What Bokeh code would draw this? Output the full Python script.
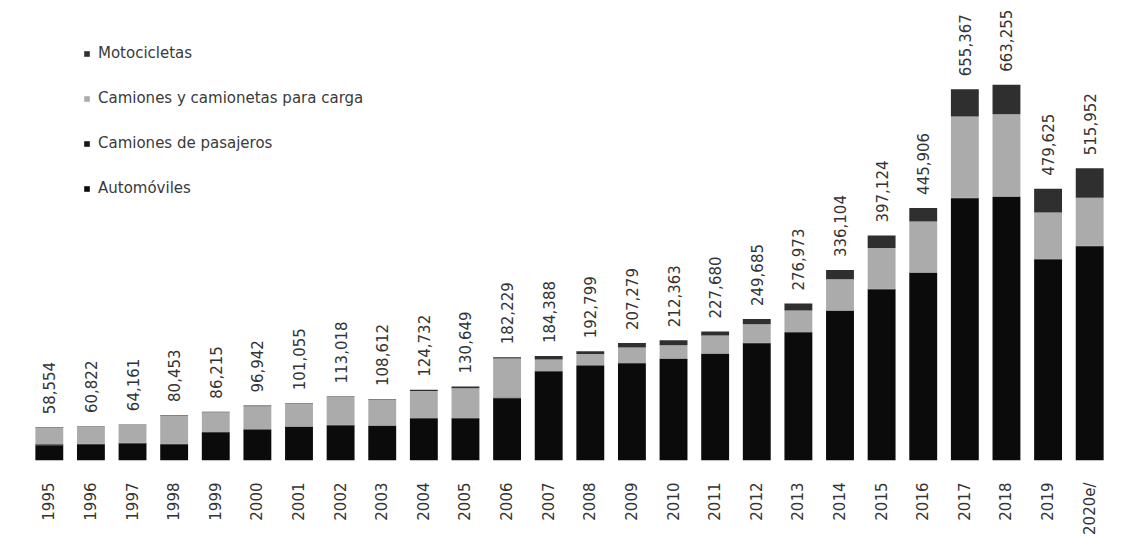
import math
from bokeh.plotting import figure
from bokeh.models import ColumnDataSource, FactorRange, Range1d, Legend, LegendItem
from bokeh.core.properties import value
from bokeh.embed import file_html
from bokeh.resources import INLINE

years = ["1995", "1996", "1997", "1998", "1999", "2000", "2001", "2002", "2003",
         "2004", "2005", "2006", "2007", "2008", "2009", "2010", "2011", "2012",
         "2013", "2014", "2015", "2016", "2017", "2018", "2019", "2020e/"]

automoviles = [27000, 28000, 30000, 28000, 49000, 54000, 59000, 62000, 61000,
               74000, 74000, 110000, 157000, 167000, 171000, 179000, 188000, 207000,
               226000, 264000, 302000, 331000, 463000, 465000, 355000, 378000]
camiones_pasajeros = [1500, 1500, 1500, 1500, 1200, 1000, 1000, 1000, 1000,
                      1000, 1000, 1000, 1000, 1000, 1000, 1000, 1000, 1000,
                      1000, 1000, 1000, 1000, 1000, 1000, 1000, 1000]
camiones_carga = [29500, 30800, 32000, 49953, 35015, 40942, 40055, 49018, 45612,
                  47732, 52649, 69229, 20388, 19799, 27279, 23363, 31680, 32685,
                  37973, 55104, 72124, 89906, 143367, 145255, 81625, 84952]
motocicletas = [554, 522, 661, 1000, 1000, 1000, 1000, 1000, 1000,
                2000, 3000, 2000, 6000, 5000, 8000, 9000, 7000, 9000,
                12000, 16000, 22000, 24000, 48000, 52000, 42000, 52000]
totales = [58554, 60822, 64161, 80453, 86215, 96942, 101055, 113018, 108612,
           124732, 130649, 182229, 184388, 192799, 207279, 212363, 227680, 249685,
           276973, 336104, 397124, 445906, 655367, 663255, 479625, 515952]

series_names = ["Automóviles", "Camiones de pasajeros",
                "Camiones y camionetas para carga", "Motocicletas"]
series_keys = ["auto", "pasaj", "carga", "moto"]
colors = ["#0b0b0b", "#161616", "#ababab", "#2f2f2f"]

source = ColumnDataSource(data=dict(
    year=years, auto=automoviles, pasaj=camiones_pasajeros,
    carga=camiones_carga, moto=motocicletas, total=totales,
    label=[f"{t:,}" for t in totales],
))

FONT = "DejaVu Sans"

p = figure(width=1112, height=540, output_backend="svg", toolbar_location=None,
           x_range=FactorRange(factors=years, range_padding=0),
           y_range=Range1d(0, 812000),
           min_border_left=28, min_border_right=2, min_border_top=0,
           min_border_bottom=80)

renderers = p.vbar_stack(series_keys, x="year", width=0.67, color=colors,
                         line_color=None, source=source)

p.text(x="year", y="total", text="label", source=source, angle=math.pi / 2,
       text_align="left", text_baseline="middle", y_offset=-13,
       text_font=value(FONT), text_font_size="15px", text_color="#333333")

legend = Legend(items=[
    LegendItem(label=series_names[3], renderers=[renderers[3]]),
    LegendItem(label=series_names[2], renderers=[renderers[2]]),
    LegendItem(label=series_names[1], renderers=[renderers[1]]),
    LegendItem(label=series_names[0], renderers=[renderers[0]]),
], location=(55, 262), glyph_width=7, glyph_height=7, label_height=20,
    spacing=25, padding=4, margin=0, label_standoff=8,
    label_text_font=FONT, label_text_font_size="15px", label_text_color="#3a3a3a",
    background_fill_alpha=0, border_line_color=None)
p.add_layout(legend)

p.yaxis.visible = False
p.xaxis.axis_line_color = None
p.xaxis.major_tick_line_color = None
p.xaxis.minor_tick_line_color = None
p.xaxis.major_label_orientation = math.pi / 2
p.xaxis.major_label_standoff = 16
p.xaxis.major_label_text_font = FONT
p.xaxis.major_label_text_font_size = "15px"
p.xaxis.major_label_text_color = "#333333"
p.xgrid.visible = False
p.ygrid.visible = False
p.outline_line_color = None
p.background_fill_color = "white"
p.border_fill_color = "white"

open("out.html", "w").write(file_html(p, INLINE))
